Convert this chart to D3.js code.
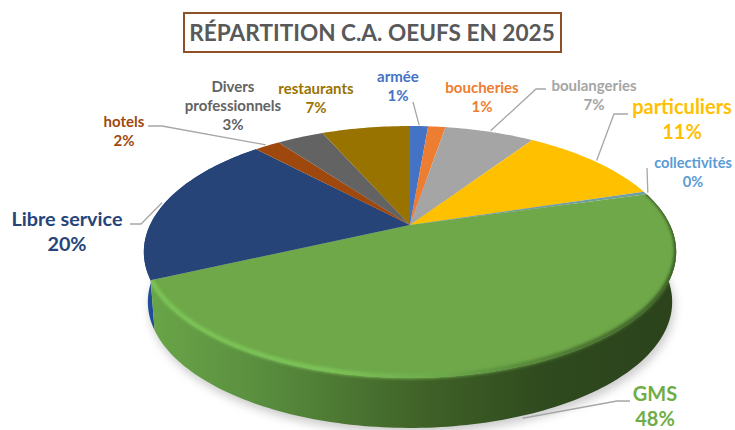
<!DOCTYPE html>
<html>
<head>
<meta charset="utf-8">
<script src="https://cdn.jsdelivr.net/npm/d3@7"></script>
<style>
  html, body { margin: 0; padding: 0; background: #fff; }
  svg { display: block; }
  text { font-family: Lato, "Open Sans", sans-serif; font-weight: 700; }
</style>
</head>
<body>
<svg id="chart"></svg>
<script>
// values (slice sizes), printed labels are the rounded ones
const categories = ['armée', 'boucheries', 'boulangeries', 'particuliers', 'collectivités', 'GMS', 'Libre service', 'hotels', 'Divers professionnels', 'restaurants'];
const shares = [1.35, 1.3, 6.7, 10.9, 0.4, 47.5, 19.9, 1.9, 3.5, 6.6];
const printedPercents = ['1%', '1%', '7%', '11%', '0%', '48%', '20%', '2%', '3%', '7%'];
const titleText = 'RÉPARTITION C.A. OEUFS EN 2025';

const faceColors = ['#4472c4', '#ed7d31', '#a5a5a5', '#ffc000', '#6f9ea0', '#6ea849', '#264478', '#9e480e', '#636363', '#997300'];
const labelColors = ['#4472c4', '#ed7d31', '#a5a5a5', '#ffc000', '#5b9bd5', '#70ad47', '#264478', '#9e480e', '#636363', '#997300'];

// label placement: centre of the first line, font size, and leader elbow points
const labelLayout = {
  'armée': { x: 398, y: 77, size: 15, leader: [[413, 102]] },
  'boucheries': { x: 482, y: 88, size: 15 },
  'boulangeries': { x: 594, y: 86, size: 15, leader: [[536, 89], [546, 89]] },
  'particuliers': { x: 682, y: 107, size: 20, leader: [[614, 114], [628, 114]] },
  'collectivités': { x: 693, y: 163, size: 14.6, leader: [[647, 168]] },
  'GMS': { x: 655, y: 394, size: 20, leader: [[617, 401], [630, 401]], ring: 'bottom' },
  'Libre service': { x: 67, y: 219, size: 19.8, leader: [[141, 224], [130, 224]] },
  'hotels': { x: 124, y: 122, size: 15, leader: [[162, 126], [148, 126]] },
  'Divers professionnels': { x: 233, y: 87, size: 15, lines: ['Divers', 'professionnels'] },
  'restaurants': { x: 316, y: 89, size: 15 }
};

const width = 735, height = 430;

// perspective disc: apex is not the centre of the ellipse
const disc = { apexX: 410, apexY: 225, a: 260, b: 120.2, k: 0.214 };
const thickness = { drop: 50, shrink: 0.985 };

function project(angle, r, ring) {
  const u = r * Math.sin(angle), v = -r * Math.cos(angle);
  const w = 1 - disc.k * v;
  const x = disc.a * u / w, y = disc.b * v / w;
  if (ring === 'bottom') {
    return [disc.apexX + x * thickness.shrink, disc.apexY + y + thickness.drop];
  }
  return [disc.apexX + x, disc.apexY + y];
}

function arcPoints(a0, a1, ring) {
  const n = Math.max(2, Math.ceil(Math.abs(a1 - a0) / 0.02));
  return d3.range(n + 1).map(i => project(a0 + (a1 - a0) * i / n, 1, ring));
}

const line = d3.line();

const svg = d3.select('#chart').attr('width', width).attr('height', height);
const defs = svg.append('defs');

defs.append('filter').attr('id', 'shadowBlur')
    .attr('x', '-10%').attr('y', '-10%').attr('width', '120%').attr('height', '120%')
  .append('feGaussianBlur').attr('stdDeviation', 5);
defs.append('filter').attr('id', 'bevelBlur')
    .attr('x', '-10%').attr('y', '-10%').attr('width', '120%').attr('height', '120%')
  .append('feGaussianBlur').attr('stdDeviation', 1.8);

function hGradient(id, x1, x2, stops) {
  const g = defs.append('linearGradient').attr('id', id)
      .attr('gradientUnits', 'userSpaceOnUse')
      .attr('x1', x1).attr('x2', x2).attr('y1', 0).attr('y2', 0);
  stops.forEach(s => g.append('stop').attr('offset', s[0]).attr('stop-color', s[1]));
}

hGradient('greenSide', 150, 680, [[0, '#6aa548'], [0.2, '#5a8f3f'], [0.52, '#3f6127'], [0.75, '#2f4a1e'], [1, '#2b421b']]);
hGradient('blueSide', 143, 170, [[0, '#2a5190'], [0.3, '#1f4c98'], [1, '#1d4790']]);
hGradient('greenRim', 150, 680, [[0, '#7cc556'], [0.35, '#7cc556'], [0.55, '#6ca94a'], [0.8, '#4a7330'], [1, '#3a5a25']]);

const pie = d3.pie().sort(null).value(d => d.share);
const slices = pie(categories.map((c, i) => ({ name: c, share: shares[i], i })));

const sidePath = d => line(arcPoints(d.startAngle, d.endAngle).concat(arcPoints(d.endAngle, d.startAngle, 'bottom'))) + 'Z';
const facePath = d => line([[disc.apexX, disc.apexY]].concat(arcPoints(d.startAngle, d.endAngle))) + 'Z';

// soft shadow under the disc
svg.append('path')
    .attr('d', line(arcPoints(0, 2 * Math.PI, 'bottom')) + 'Z')
    .attr('transform', 'translate(2,5)')
    .attr('fill', '#b5b5b5')
    .attr('opacity', 0.7)
    .attr('filter', 'url(#shadowBlur)');

// side wall: only libre service and GMS face the viewer
svg.selectAll('path.side')
  .data(slices.filter(d => d.data.name === 'Libre service' || d.data.name === 'GMS').reverse())
  .join('path')
    .attr('class', 'side')
    .attr('d', sidePath)
    .attr('fill', d => d.data.name === 'GMS' ? 'url(#greenSide)' : 'url(#blueSide)');

// top face
svg.selectAll('path.face')
  .data(slices)
  .join('path')
    .attr('class', 'face')
    .attr('d', facePath)
    .attr('fill', d => faceColors[d.data.i]);

// rim highlight on the GMS edge, kept inside the slice so it never bleeds on the white
const gms = slices[categories.indexOf('GMS')];
const rimClip = defs.append('clipPath').attr('id', 'gmsClip');
rimClip.append('path').attr('d', facePath(gms));
rimClip.append('path').attr('d', sidePath(gms));
svg.append('g')
    .attr('clip-path', 'url(#gmsClip)')
  .append('path')
    .attr('d', line(arcPoints(gms.startAngle, gms.endAngle - 0.02).map(p => [p[0], p[1] - 1.5])))
    .attr('fill', 'none')
    .attr('stroke', 'url(#greenRim)')
    .attr('stroke-width', 4.5)
    .attr('stroke-linecap', 'round')
    .attr('filter', 'url(#bevelBlur)');

// leader lines run from the mid angle of the slice
slices.forEach(d => {
  const lay = labelLayout[d.data.name];
  if (!lay.leader) return;
  const mid = (d.startAngle + d.endAngle) / 2;
  svg.append('path')
      .attr('d', line([project(mid, 1.012, lay.ring)].concat(lay.leader)))
      .attr('fill', 'none')
      .attr('stroke', '#a6a6a6')
      .attr('stroke-width', 1.3);
});

// labels
slices.forEach(d => {
  const name = d.data.name, lay = labelLayout[name];
  const rows = (lay.lines || [name]).concat(printedPercents[d.data.i]);
  const lineGap = lay.size * 1.27;
  svg.append('g').selectAll('text')
    .data(rows)
    .join('text')
      .attr('x', lay.x)
      .attr('y', (r, j) => lay.y + j * lineGap + lay.size * 0.35)
      .attr('text-anchor', 'middle')
      .attr('font-size', lay.size)
      .attr('fill', labelColors[d.data.i])
      .text(r => r);
});

// title box
svg.append('rect')
    .attr('x', 184).attr('y', 13)
    .attr('width', 377).attr('height', 39)
    .attr('fill', '#fff')
    .attr('stroke', '#8f5028')
    .attr('stroke-width', 2);
svg.append('text')
    .attr('x', 372).attr('y', 41)
    .attr('text-anchor', 'middle')
    .attr('font-size', 22.6)
    .attr('fill', '#595959')
    .text(titleText);
</script>
</body>
</html>
